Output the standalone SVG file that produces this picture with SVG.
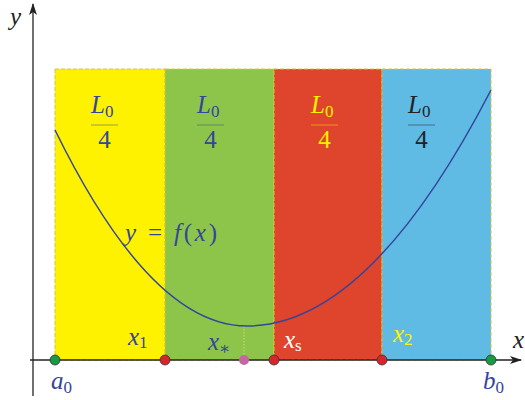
<svg xmlns="http://www.w3.org/2000/svg" width="525" height="400" viewBox="0 0 525 400">
<defs>
<marker id="arr" viewBox="0 0 12 8" refX="11" refY="4" markerWidth="12" markerHeight="8" markerUnits="userSpaceOnUse" orient="auto">
<path d="M0,0 L12,4 L0,8 L3,4 Z" fill="#222"/>
</marker>
<style>
.m{font-family:"Liberation Serif","DejaVu Serif",serif;font-style:italic;font-size:25px}
.n{font-family:"Liberation Serif","DejaVu Serif",serif;font-size:25px}
.s{font-size:17px;font-style:normal}
.blue{fill:#34459a}
.yel{fill:#fff200}
.blk{fill:#222}
.wht{fill:#fff}
.rect{stroke:#d8c43a;stroke-width:1;stroke-dasharray:4 2}
.dot{stroke:#333;stroke-width:0.8}
</style>
</defs>
<g id="regions">
<rect x="55" y="69" width="110" height="291" fill="#fff200" class="rect"/>
<rect x="165" y="69" width="109" height="291" fill="#8dc54b" class="rect"/>
<rect x="274" y="69" width="108" height="291" fill="#df442c" class="rect"/>
<rect x="382" y="69" width="109" height="291" fill="#5fbbe4" class="rect"/>
</g>
<g id="connectors">
<line x1="33" y1="396" x2="33" y2="4" stroke="#222" stroke-width="1.3" marker-end="url(#arr)"/>
<line x1="30" y1="360" x2="521" y2="360" stroke="#222" stroke-width="1.3" marker-end="url(#arr)"/>
<line x1="244" y1="326" x2="244" y2="360" stroke="#e8e070" stroke-width="0.8" stroke-dasharray="1.5 1.5"/>
<path d="M55,130 Q151,326 247,326 Q369,326 491,90" fill="none" stroke="#34459a" stroke-width="1.5"/>
</g>
<g id="fractions">
<g id="frac1">
<text x="91" y="113" class="m blue">L<tspan class="s" dy="4">0</tspan></text>
<line x1="91" y1="125" x2="118" y2="125" stroke="#34459a" stroke-width="0.8" opacity="0.6"/>
<text x="104.5" y="148" class="n blue" text-anchor="middle">4</text>
</g>
<g id="frac2">
<text x="197" y="113" class="m blue">L<tspan class="s" dy="4">0</tspan></text>
<line x1="197" y1="125" x2="224" y2="125" stroke="#34459a" stroke-width="0.8" opacity="0.6"/>
<text x="210.5" y="148" class="n blue" text-anchor="middle">4</text>
</g>
<g id="frac3">
<text x="311" y="113" class="m yel">L<tspan class="s" dy="4">0</tspan></text>
<line x1="311" y1="125" x2="338" y2="125" stroke="#fff200" stroke-width="0.8" opacity="0.6"/>
<text x="324.5" y="148" class="n yel" text-anchor="middle">4</text>
</g>
<g id="frac4">
<text x="408" y="113" class="m blk">L<tspan class="s" dy="4">0</tspan></text>
<line x1="408" y1="125" x2="435" y2="125" stroke="#222" stroke-width="0.8" opacity="0.6"/>
<text x="421.5" y="148" class="n blk" text-anchor="middle">4</text>
</g>
</g>
<g id="labels">
<text x="10" y="25" class="m blk">y</text>
<text x="513" y="348" class="m blk">x</text>
<text x="125" y="241" class="m blue" xml:space="preserve" textLength="92" lengthAdjust="spacing">y <tspan font-style="normal">= </tspan>f<tspan font-style="normal">(</tspan>x<tspan font-style="normal">)</tspan></text>
<text x="128" y="345" class="m blue">x<tspan class="s" dy="3">1</tspan></text>
<text x="208" y="350" class="m blue">x<tspan class="s" dy="4">∗</tspan></text>
<text x="284" y="348" class="m wht">x<tspan class="s" dy="3" font-style="italic">s</tspan></text>
<text x="393" y="342" class="m yel">x<tspan class="s" dy="3">2</tspan></text>
<text x="51" y="389" class="m blue">a<tspan class="s" dy="4">0</tspan></text>
<text x="483" y="389" class="m blue">b<tspan class="s" dy="4">0</tspan></text>
</g>
<g id="points">
<circle cx="55" cy="360" r="5" fill="#179a44" class="dot"/>
<circle cx="165" cy="360" r="5" fill="#d7262b" class="dot"/>
<circle cx="244" cy="360" r="5" fill="#c2689f"/>
<circle cx="274" cy="360" r="5" fill="#d7262b" class="dot"/>
<circle cx="382" cy="360" r="5" fill="#d7262b" class="dot"/>
<circle cx="491" cy="360" r="5" fill="#179a44" class="dot"/>
</g>
</svg>
